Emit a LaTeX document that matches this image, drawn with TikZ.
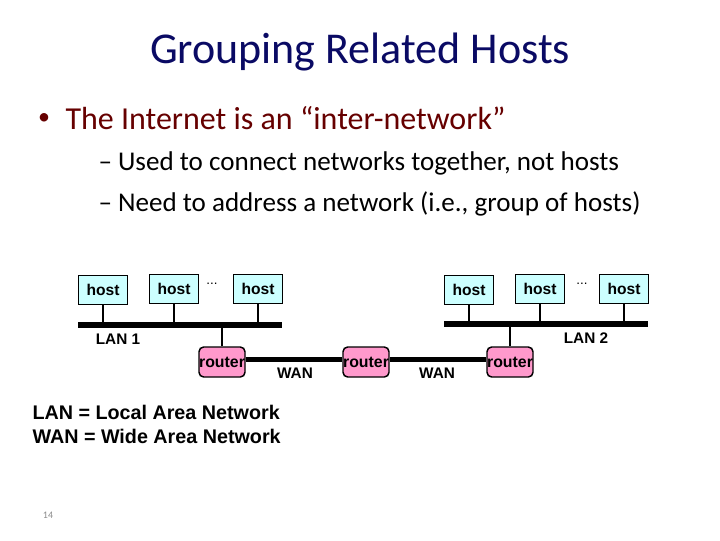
\documentclass[tikz,border=0pt]{standalone}
\usepackage{fontspec}
\setmainfont{Carlito}
\newfontfamily\netfont{Liberation Sans}
\definecolor{titleblue}{RGB}{10,10,100}
\definecolor{bulletred}{RGB}{102,0,0}
\definecolor{hostcyan}{RGB}{204,255,255}
\definecolor{routerpink}{RGB}{255,153,204}
\definecolor{pagegray}{RGB}{140,140,140}

\tikzset{every picture/.style={line width=0.75pt}}
\tikzset{
	slidetitle/.style={anchor=base, inner sep=0pt, text=titleblue, font=\fontsize{33}{40}\selectfont},
	bullettext/.style={anchor=base west, inner sep=0pt, text=bulletred, font=\fontsize{24}{29}\selectfont},
	subtext/.style={anchor=base west, inner sep=0pt, font=\fontsize{20.3}{24}\selectfont},
	host/.style={draw, line width=1.1pt, fill=hostcyan, minimum width=37pt, minimum height=22pt, inner sep=0pt, font=\netfont\bfseries\fontsize{11.7}{14}\selectfont},
	router/.style={draw, line width=1.1pt, fill=routerpink, rounded corners=3.5pt, minimum width=34.5pt, minimum height=22.5pt, inner sep=0pt, font=\netfont\bfseries\fontsize{11.9}{14}\selectfont},
	netlabel/.style={inner sep=0pt, font=\netfont\bfseries\fontsize{11.5}{14}\selectfont},
	lanbar/.style={line width=4.5pt},
	wanbar/.style={line width=3.75pt},
	drop/.style={line width=1.1pt}
}

\begin{document}
\begin{tikzpicture}[x=0.75pt,y=0.75pt,yscale=-1,xscale=1]
	\useasboundingbox (0,0) rectangle (720,540);

	% Text Node
	\draw (360,63) node[slidetitle] (title) {Grouping Related Hosts};
	% Text Node
	\draw (44,119) node[text=bulletred, font=\fontsize{18}{20}\selectfont] (dot) {\textbullet};
	\draw (65,129) node[bullettext] (bul) {The Internet is an “inter-network”};
	% Text Node
	\draw (98,170) node[subtext] (subA) {– Used to connect networks together, not hosts};
	\draw (98,211) node[subtext] (subB) {– Need to address a network (i.e., group of hosts)};

	%Shape: Hosts on LAN 1
	\draw (103,290) node[host] (hA) {host};
	\draw (174,289) node[host] (hB) {host};
	\draw (258,289) node[host] (hC) {host};
	\draw (212,284) node[netlabel, font=\netfont\fontsize{10}{12}\selectfont] (dotsA) {...};
	%Shape: Hosts on LAN 2
	\draw (469,290) node[host] (hD) {host};
	\draw (540,289) node[host] (hE) {host};
	\draw (624,289) node[host] (hF) {host};
	\draw (582,284) node[netlabel, font=\netfont\fontsize{10}{12}\selectfont] (dotsB) {...};

	%Shape: Routers
	\draw (222,362) node[router] (rA) {router};
	\draw (366,362) node[router] (rB) {router};
	\draw (510,362) node[router] (rC) {router};

	%Straight Lines: LAN bars
	\coordinate (lanAw) at (78,324.5);
	\coordinate (lanAe) at (282,324.5);
	\coordinate (lanBw) at (444,324);
	\coordinate (lanBe) at (648,324);
	\draw [lanbar] (lanAw) -- (lanAe);
	\draw [lanbar] (lanBw) -- (lanBe);

	%Straight Lines: drops
	\draw [drop] (hA.south) -- (hA |- lanAw);
	\draw [drop] (hB.south) -- (hB |- lanAw);
	\draw [drop] (hC.south) -- (hC |- lanAw);
	\draw [drop] (hD.south) -- (hD |- lanBw);
	\draw [drop] (hE.south) -- (hE |- lanBw);
	\draw [drop] (hF.south) -- (hF |- lanBw);
	\draw [drop] (rA.north) -- (rA |- lanAw);
	\draw [drop] (rC.north) -- (rC |- lanBw);

	%Straight Lines: WAN links
	\draw [wanbar] ([yshift=-2]rA.east) -- ([yshift=-2]rB.west);
	\draw [wanbar] ([yshift=-2]rB.east) -- ([yshift=-2]rC.west);

	% Text Node
	\draw (118,339) node[netlabel] (lanA) {LAN 1};
	\draw (586,338) node[netlabel] (lanB) {LAN 2};
	\draw (295,373) node[netlabel] (wanA) {WAN};
	\draw (437,373) node[netlabel] (wanB) {WAN};

	% Text Node
	\draw (32,424) node[anchor=west, align=left, inner sep=0pt, font=\netfont\bfseries\fontsize{14.8}{18}\selectfont] (legend) {LAN = Local Area Network\\WAN = Wide Area Network};

	% Text Node
	\draw (48,515) node[text=pagegray, font=\fontsize{7.5}{9}\selectfont] (page) {14};

\end{tikzpicture}
\end{document}
